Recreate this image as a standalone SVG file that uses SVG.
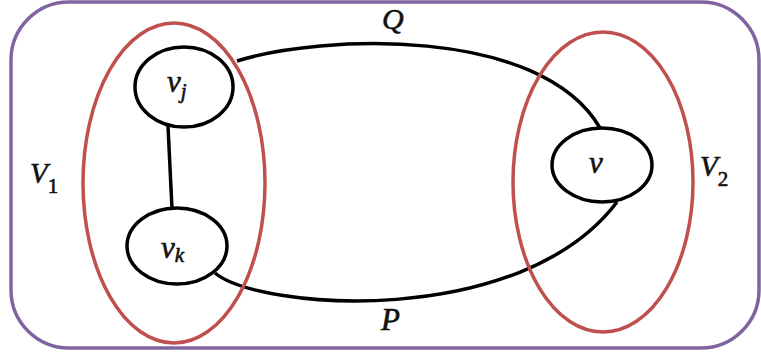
<svg xmlns="http://www.w3.org/2000/svg" width="761" height="356" viewBox="0 0 761 356">
<style>
.lbl{font-family:"Liberation Serif","DejaVu Serif",serif;font-style:italic;fill:#111;stroke:#111;stroke-width:0.6}
.node{fill:#fff;stroke:#000;stroke-width:3.5}
.set{fill:none;stroke:#C0504D;stroke-width:3.5}
.edge{fill:none;stroke:#000;stroke-width:3.5}
</style>
<rect x="11" y="2" width="748" height="346" rx="58" ry="58" fill="#fff" stroke="#8064A2" stroke-width="3.5"/>
<g id="connectors">
<path class="edge" d="M237 61 C320 35, 540 25, 600 128"/>
<path class="edge" d="M215 273 C260 310, 520 330, 617 202"/>
<line class="edge" x1="168" y1="126" x2="172" y2="209" stroke-width="4"/>
</g>
<g id="V1"><ellipse class="set" cx="174" cy="183" rx="91" ry="160"/>
<text class="lbl" x="30" y="183" font-size="29">V<tspan font-size="21" font-style="normal" dy="10">1</tspan></text></g>
<g id="V2"><ellipse class="set" cx="603" cy="182" rx="90" ry="150"/>
<text class="lbl" x="700" y="176" font-size="29">V<tspan font-size="21" font-style="normal" dy="10">2</tspan></text></g>
<g id="vj"><ellipse class="node" cx="184" cy="87" rx="49" ry="40"/>
<text class="lbl" x="167" y="92" font-size="31">v<tspan font-size="21" dy="6">j</tspan></text></g>
<g id="vk"><ellipse class="node" cx="177" cy="246" rx="50" ry="38"/>
<text class="lbl" x="161" y="258" font-size="31">v<tspan font-size="21" dy="4">k</tspan></text></g>
<g id="v"><ellipse class="node" cx="602" cy="165" rx="50" ry="37"/>
<text class="lbl" x="589" y="173" font-size="31">v</text></g>
<text class="lbl" x="382" y="29" font-size="30">Q</text>
<text class="lbl" x="381" y="330" font-size="31">P</text>
</svg>
